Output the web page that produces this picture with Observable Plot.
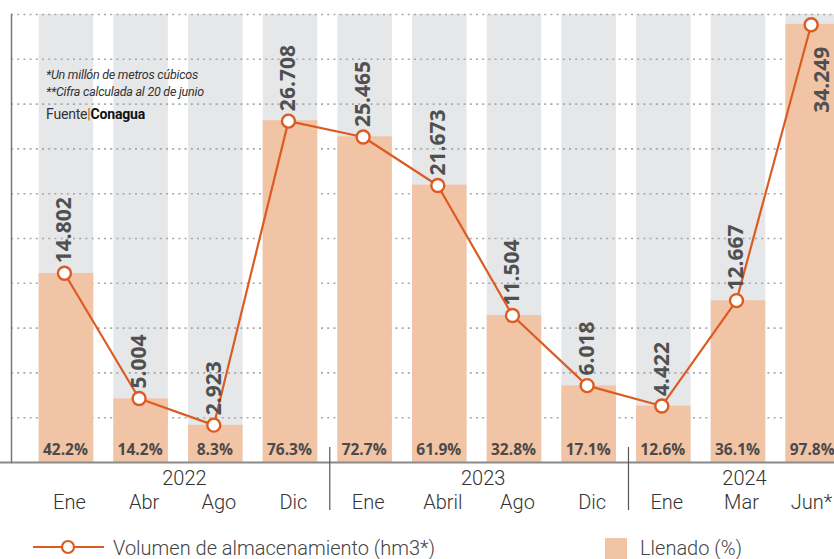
<!DOCTYPE html>
<html>
<head>
<meta charset="utf-8">
<script src="https://cdn.jsdelivr.net/npm/d3@7"></script>
<script src="https://cdn.jsdelivr.net/npm/@observablehq/plot@0.6"></script>
<style>
  html, body { margin: 0; padding: 0; background: #fff; overflow: hidden; }
  #wrap { position: relative; width: 834px; height: 559px; font-family: Roboto, "Liberation Sans", sans-serif; }
  #notes { position: absolute; left: 46px; top: 66px; color: #333; font-size: 12.5px; line-height: 17px; font-style: italic; letter-spacing: -0.25px; }
  #fuente { position: absolute; left: 46px; top: 106px; color: #333; font-size: 14px; letter-spacing: -0.2px; }
  #fuente b { color: #111; }
  #fuente .bar { color: #e0601f; font-weight: bold; }
  .leg { position: absolute; color: #444; font-size: 20px; font-weight: 300; }
</style>
</head>
<body>
<div id="wrap">
  <div id="chart"></div>
  <div id="notes">*Un millón de metros cúbicos<br>**Cifra calculada al 20 de junio</div>
  <div id="fuente">Fuente<span class="bar">|</span><b>Conagua</b></div>
  <svg style="position:absolute;left:32px;top:539px" width="74" height="16">
    <line x1="1" x2="72" y1="8" y2="8" stroke="#dc5b22" stroke-width="2.2"></line>
    <circle cx="36" cy="8" r="6" fill="#fff" stroke="#dc5b22" stroke-width="2.2"></circle>
  </svg>
  <div class="leg" style="left:113px;top:536px">Volumen de almacenamiento (hm3*)</div>
  <div style="position:absolute;left:605px;top:538px;width:22px;height:21px;background:#f2c4a6"></div>
  <div class="leg" style="left:640px;top:536px">Llenado (%)</div>
</div>
<script>
// ---- data ----
const ids = ["2022-Ene","2022-Abr","2022-Ago","2022-Dic","2023-Ene","2023-Abril","2023-Ago","2023-Dic","2024-Ene","2024-Mar","2024-Jun*"];
const months = ["Ene","Abr","Ago","Dic","Ene","Abril","Ago","Dic","Ene","Mar","Jun*"];
const volumen = [14.802, 5.004, 2.923, 26.708, 25.465, 21.673, 11.504, 6.018, 4.422, 12.667, 34.249];
const llenado = [42.2, 14.2, 8.3, 76.3, 72.7, 61.9, 32.8, 17.1, 12.6, 36.1, 97.8];
const volumenTope = 35.05; // hm3 at the top of the scale (100 %)
const yearLabels = ["2022", "2023", "2024"];
const yearAnchors = ["2022-Abr", "2023-Abril", "2024-Mar"];
const yearBetween = [true, true, false];
const separators = ["2022-Dic", "2023-Dic"];
const gridTicks = [10, 20, 30, 40, 50, 60, 70, 80, 90, 100];

const data = ids.map((id, i) => ({id, month: months[i], vol: volumen[i], pct: llenado[i]}));
const years = yearLabels.map((y, i) => ({year: y, at: yearAnchors[i], between: yearBetween[i]}));
const fmt = v => v.toFixed(3);
const volY = d => d.vol / volumenTope * 100;

const orange = "#dc5b22";
const peach = "#f2c4a6";
const grey = "#e6e7e9";
const light = "Roboto, 'Liberation Sans', sans-serif";
const bold = "'Open Sans', 'DejaVu Sans', sans-serif";
const step = 74.67;
const monthStyle = {frameAnchor: "bottom", dy: 40, lineAnchor: "middle", fontSize: 20, fontWeight: 300, fill: "#333", fontFamily: light};

const chart = Plot.plot({
  width: 834,
  height: 520,
  marginLeft: 11,
  marginRight: 0,
  marginTop: 14,
  marginBottom: 58,
  x: {type: "band", domain: ids, range: [28.6, 850], paddingInner: 0.27, paddingOuter: 0.135, round: false, axis: null},
  y: {domain: [0, 100], axis: null},
  marks: [
    Plot.barY(data, {x: "id", y: () => 100, fill: grey}),
    Plot.ruleY(gridTicks, {stroke: "#a8a8a8", strokeWidth: 1.6, strokeDasharray: "2,4.2"}),
    Plot.barY(data, {x: "id", y: "pct", fill: peach}),
    Plot.ruleY([0], {stroke: "#8a8a8a", strokeWidth: 2, insetLeft: -11}),
    Plot.frame({anchor: "left", stroke: "#777", strokeWidth: 1.5}),
    Plot.ruleX(separators, {x: d => d, dx: step / 2 + 2, stroke: "#555", strokeWidth: 1.2, insetTop: 433, insetBottom: -48}),
    Plot.text(data, {x: "id", text: d => d.pct.toFixed(1) + "%", frameAnchor: "bottom", dy: -12, dx: -1, lineAnchor: "middle", fontSize: 15.5, fontWeight: "bold", fill: "#4a4a4a", fontFamily: bold, letterSpacing: "-0.8px"}),
    Plot.line(data, {x: "id", y: volY, dx: -2, stroke: orange, strokeWidth: 2.2}),
    Plot.dot(data, {x: "id", y: volY, dx: -2, r: 6.5, fill: "#fff", stroke: orange, strokeWidth: 2.4}),
    Plot.text(data.slice(0, -1), {x: "id", y: volY, text: d => fmt(d.vol), rotate: -90, textAnchor: "start", lineAnchor: "middle", dy: -10, dx: -2, fontSize: 21, fontWeight: "bold", fill: "#505050", fontFamily: bold}),
    Plot.text(data.slice(-1), {x: "id", y: volY, text: d => fmt(d.vol), rotate: -90, textAnchor: "end", lineAnchor: "middle", dy: 22, dx: 9, fontSize: 21, fontWeight: "bold", fill: "#505050", fontFamily: bold}),
    Plot.text(data.slice(0, -1), {x: "id", text: "month", dx: 3, ...monthStyle}),
    Plot.text(data.slice(-1), {x: "id", text: "month", textAnchor: "end", dx: 19, ...monthStyle}),
    Plot.text(years.filter(d => d.between), {x: "at", text: "year", frameAnchor: "bottom", dy: 16, dx: step / 2 + 6, lineAnchor: "middle", fontSize: 20, fontWeight: 300, fill: "#333", fontFamily: light}),
    Plot.text(years.filter(d => !d.between), {x: "at", text: "year", frameAnchor: "bottom", dy: 16, dx: 6, lineAnchor: "middle", fontSize: 20, fontWeight: 300, fill: "#333", fontFamily: light})
  ]
});
document.getElementById("chart").appendChild(chart);
</script>
</body>
</html>
